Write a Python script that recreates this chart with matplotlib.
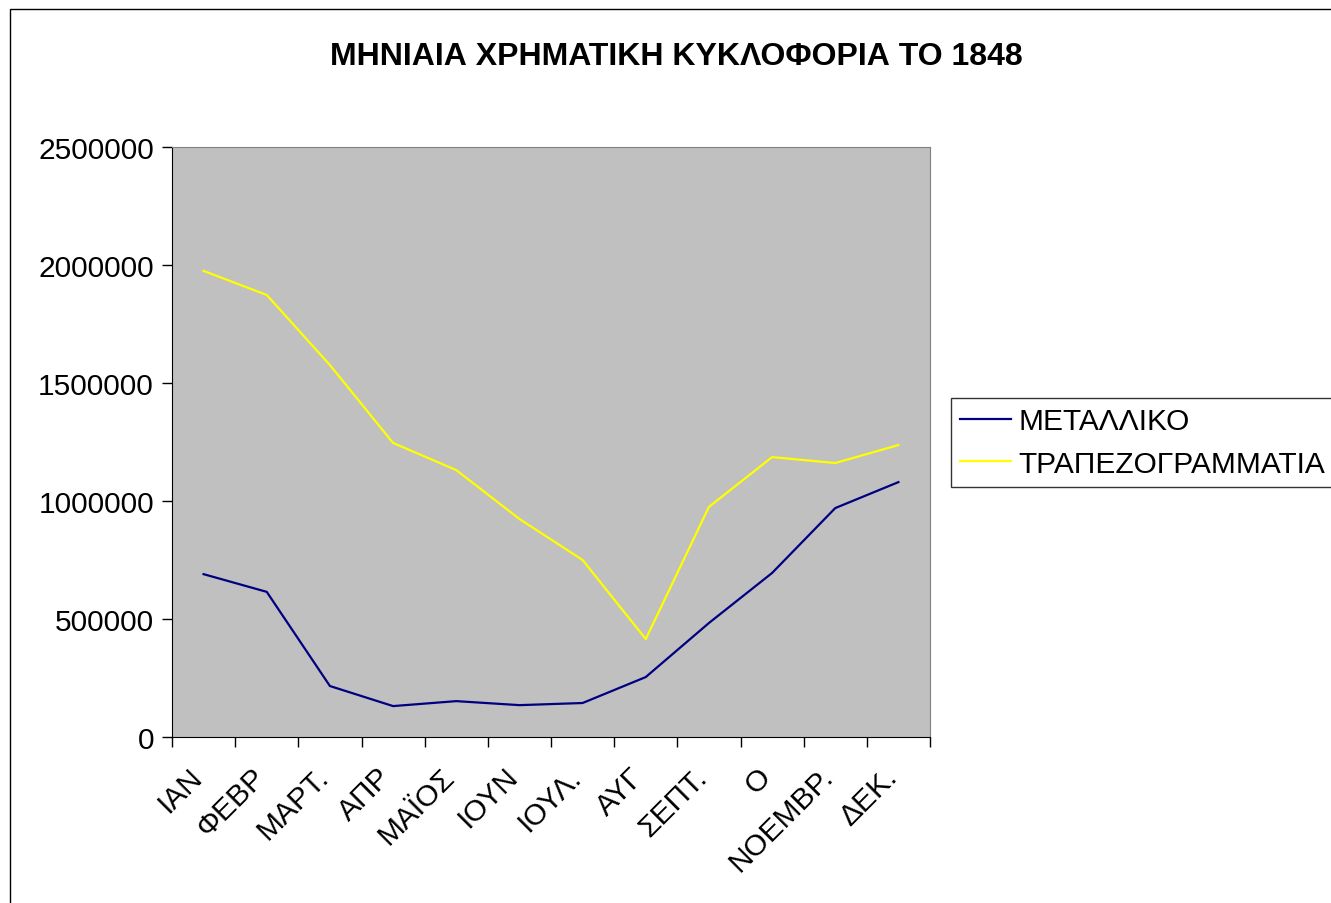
import matplotlib.pyplot as plt
import matplotlib.transforms as mtransforms
import numpy as np
from matplotlib.patches import Rectangle

plt.rcParams['font.family'] = ['Liberation Sans', 'DejaVu Sans']

# months as visible in the original (labels are clipped there)
months = ["ΙΑΝ", "ΦΕΒΡ", "ΜΑΡΤ.", "ΑΠΡ", "ΜΑΪΟΣ", "ΙΟΥΝ", "ΙΟΥΛ.",
          "ΑΥΓ", "ΣΕΠΤ.", "Ο", "ΝΟΕΜΒΡ.", "ΔΕΚ."]
metalliko = [690000, 615000, 216000, 131000, 152000, 135000, 144000,
             254000, 483000, 695000, 970000, 1080000]
trapezogrammatia = [1975000, 1873000, 1576000, 1246000, 1131000, 924000, 750000,
                    415000, 975000, 1186000, 1161000, 1237000]

W, H = 1331, 904
fig = plt.figure(figsize=(W / 100, H / 100), dpi=100)
ax = fig.add_axes([172 / W, 1 - 738 / H, (930 - 172) / W, (738 - 148) / H])
ax.set_facecolor('#C0C0C0')

x = np.arange(len(months)) + 0.5
ax.plot(x, metalliko, color='#000080', lw=1.6, label='ΜΕΤΑΛΛΙΚΟ')
ax.plot(x, trapezogrammatia, color='#FFFF00', lw=1.6, label='ΤΡΑΠΕΖΟΓΡΑΜΜΑΤΙΑ')

ax.set_xlim(0, 12)
ax.set_ylim(0, 2500000)
ax.set_yticks(np.arange(0, 2500001, 500000))
ax.set_yticklabels([str(v) for v in range(0, 2500001, 500000)], fontsize=21.5)
ax.set_xticks(x)
ax.set_xticklabels(months, fontsize=21.5, rotation=45, ha='right', rotation_mode='anchor')
ax.set_xticks(np.arange(0, 13), minor=True)
ax.tick_params(axis='x', which='major', length=0, pad=18)
ax.tick_params(axis='x', which='minor', length=7, direction='out', width=1)
ax.tick_params(axis='y', length=7, direction='out', width=1, pad=6)

# nudge month labels left a bit, like the original
shift = mtransforms.ScaledTranslation(-16 / 100, 0, fig.dpi_scale_trans)
for lab in ax.get_xticklabels():
    lab.set_transform(lab.get_transform() + shift)

for s in ['top', 'right']:
    ax.spines[s].set_color('#808080')
for s in ['left', 'bottom']:
    ax.spines[s].set_color('black')

fig.text(676 / W, 1 - 57 / H, 'ΜΗΝΙΑΙΑ ΧΡΗΜΑΤΙΚΗ ΚΥΚΛΟΦΟΡΙΑ ΤΟ 1848',
         ha='center', va='center', fontsize=23, fontweight='bold')

leg = fig.legend(loc='upper left', bbox_to_anchor=(951 / W, 1 - 399 / H),
                 fontsize=21.5, frameon=True, fancybox=False, edgecolor='black',
                 handlelength=1.7, handletextpad=0.25, borderpad=0.3,
                 labelspacing=0.5, borderaxespad=0)
leg.get_frame().set_linewidth(1)

# outer chart border
fig.patches.append(Rectangle((10 / W, -0.1), 1.2, 1 - 10 / H + 0.1,
                             transform=fig.transFigure, fill=False,
                             edgecolor='black', lw=1))

fig.savefig('out.png', dpi=100)
